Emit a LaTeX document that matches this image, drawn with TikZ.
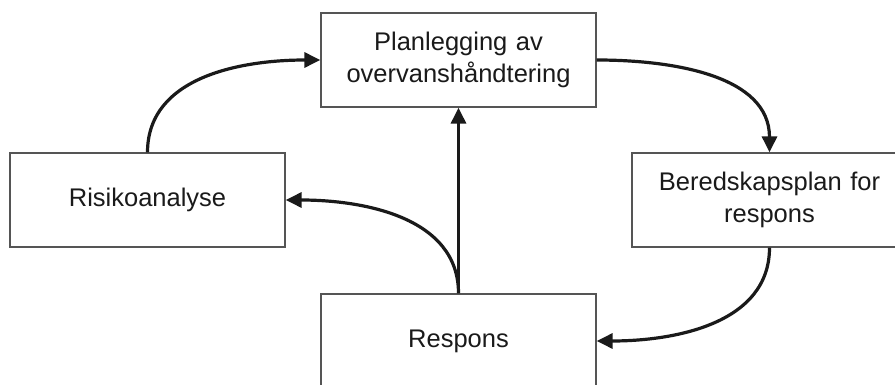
\documentclass[tikz,border=0pt]{standalone}
\usepackage{fontspec}
\setsansfont{Liberation Sans}
\usepackage{tikz}
\usetikzlibrary{positioning, calc, arrows.meta}
\definecolor{frame}{RGB}{85, 85, 85}
\definecolor{ink}{RGB}{26, 26, 26}

\begin{document}
\begin{tikzpicture}[x=1pt, y=-1pt, every node/.style={fill=white, font=\sffamily\fontsize{25.5}{32}\selectfont, text=ink}]
    \tikzstyle{block} = [draw=frame, rectangle, minimum width=275pt, minimum height=94pt, text width=262pt, align=center, line width=1.3pt]
    \tikzstyle{arrow} = [line width=3.2pt, -{Triangle[length=16pt, width=15pt]}, draw=ink]

    \useasboundingbox (0,0) rectangle (895,385);
    \clip (0,0) rectangle (895,385);

    % Boxes
    \node (plan) [block] at (458.5,60) {Planlegging av\\overvanshåndtering};
    \node (risiko) [block] at (147.5,200) {Risikoanalyse};
    \node (bered) [block] at (769.5,200) {Beredskapsplan for\\respons};
    \node (respons) [block] at (458.5,341) {Respons};

    % Arrows
    \draw [arrow] (risiko.north) to[out=90, in=180] (plan.west);
    \draw [arrow] (plan.east) to[out=0, in=90] (bered.north);
    \draw [arrow] (bered.south) to[out=-90, in=0] (respons.east);
    \draw [arrow] (respons.north) -- (plan.south);
    \draw [arrow] (respons.north) to[out=90, in=0] (risiko.east);
\end{tikzpicture}
\end{document}
